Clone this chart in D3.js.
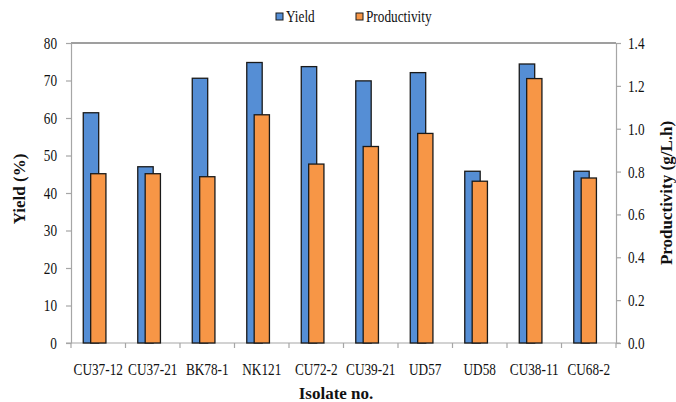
<!DOCTYPE html>
<html><head><meta charset="utf-8">
<script src="https://cdn.jsdelivr.net/npm/d3@7"></script>
<style>
html,body{margin:0;padding:0;background:#fff;}
svg text{font-family:"Liberation Serif","Times New Roman",serif;fill:#111;}
</style></head>
<body><svg id="c" width="676" height="402"></svg>
<script>
const categories = ["CU37-12","CU37-21","BK78-1","NK121","CU72-2","CU39-21","UD57","UD58","CU38-11","CU68-2"];
const yieldValues = [61.4, 47.0, 70.6, 74.8, 73.7, 69.9, 72.1, 45.8, 74.4, 45.8];
const productivityValues = [0.79, 0.79, 0.776, 1.065, 0.835, 0.917, 0.978, 0.755, 1.234, 0.77];
const yieldTicks = [0,10,20,30,40,50,60,70,80];
const prodTicks = [0,0.2,0.4,0.6,0.8,1.0,1.2,1.4];
const seriesNames = ["Yield","Productivity"];
const colors = ["#558ED5","#F79646"];

const svg = d3.select("#c");
const L=71, R=616, T=43, B=343;
const x = d3.scaleBand().domain(categories).range([L,R]).padding(0);
const yL = d3.scaleLinear().domain([0,80]).range([B,T]);
const yR = d3.scaleLinear().domain([0,1.4]).range([B,T]);
const bw = x.bandwidth();
const axisGray = "#A6A6A6";
const SX = 0.78; // horizontal condensing of the narrow label font

// top border
svg.append("line").attr("x1",L).attr("x2",R).attr("y1",T).attr("y2",T)
  .attr("stroke","#404040").attr("stroke-width",1.2);

// left axis
const gl = svg.append("g").attr("transform",`translate(${L},0)`)
  .call(d3.axisLeft(yL).tickValues(yieldTicks).tickSize(5).tickPadding(9).tickSizeOuter(0));
// right axis
const gr = svg.append("g").attr("transform",`translate(${R},0)`)
  .call(d3.axisRight(yR).tickValues(prodTicks).tickFormat(d3.format(".1f")).tickSize(5).tickPadding(7).tickSizeOuter(0));
// bottom axis: labels at band centres
const gb = svg.append("g").attr("transform",`translate(0,${B})`)
  .call(d3.axisBottom(x).tickSize(0).tickPadding(20).tickSizeOuter(0));
gb.select(".domain").remove();
// bottom axis line and boundary ticks
svg.append("line").attr("x1",L-5).attr("x2",R+4).attr("y1",B).attr("y2",B)
  .attr("stroke",axisGray).attr("stroke-width",1.2);
const bounds = categories.map(c=>x(c)).concat([R]);
svg.selectAll("line.bt").data(bounds).enter().append("line").attr("class","bt")
  .attr("x1",d=>d).attr("x2",d=>d).attr("y1",B).attr("y2",B+5)
  .attr("stroke",axisGray).attr("stroke-width",1.2);

[gl,gr].forEach(g=>{
  g.select(".domain").attr("stroke",axisGray).attr("stroke-width",1.2);
  g.selectAll(".tick line").attr("stroke",axisGray).attr("stroke-width",1.2);
});
[gl,gr,gb].forEach(g=>{
  g.selectAll(".tick text").attr("font-size",17).attr("font-family","Liberation Serif").attr("fill","#111")
    .each(function(){
      const t = d3.select(this);
      const x0 = +t.attr("x") || 0;
      t.attr("x", x0/SX).attr("transform",`scale(${SX},1)`);
    });
});

// bars
const groups = svg.append("g").selectAll("g").data(categories).enter().append("g");
groups.append("rect")
  .attr("x",(d)=>x(d)+0.225*bw).attr("width",0.283*bw)
  .attr("y",(d,i)=>yL(yieldValues[i])).attr("height",(d,i)=>B-yL(yieldValues[i]))
  .attr("fill",colors[0]).attr("stroke","#1a1a1a").attr("stroke-width",1.3);
groups.append("rect")
  .attr("x",(d)=>x(d)+0.361*bw).attr("width",0.28*bw)
  .attr("y",(d,i)=>yR(productivityValues[i])).attr("height",(d,i)=>B-yR(productivityValues[i]))
  .attr("fill",colors[1]).attr("stroke","#1a1a1a").attr("stroke-width",1.3);

// axis titles
svg.append("text").attr("transform","translate(25,189) rotate(-90)")
  .attr("text-anchor","middle").attr("font-weight","bold").attr("font-size",17).text("Yield (%)");
svg.append("text").attr("transform","translate(672,193) rotate(-90)")
  .attr("text-anchor","middle").attr("font-weight","bold").attr("font-size",17).text("Productivity (g/L.h)");
svg.append("text").attr("x",336).attr("y",399)
  .attr("text-anchor","middle").attr("font-weight","bold").attr("font-size",17).text("Isolate no.");

// legend
const legX = [276,356];
const leg = svg.append("g").selectAll("g").data(seriesNames).enter().append("g");
leg.append("rect").attr("x",(d,i)=>legX[i]).attr("y",13).attr("width",7).attr("height",7)
  .attr("fill",(d,i)=>colors[i]).attr("stroke","#1a1a1a").attr("stroke-width",1);
leg.append("text").attr("x",(d,i)=>(legX[i]+10)/SX).attr("y",22)
  .attr("transform",`scale(${SX},1)`)
  .attr("font-size",17).text(d=>d);
</script></body></html>
